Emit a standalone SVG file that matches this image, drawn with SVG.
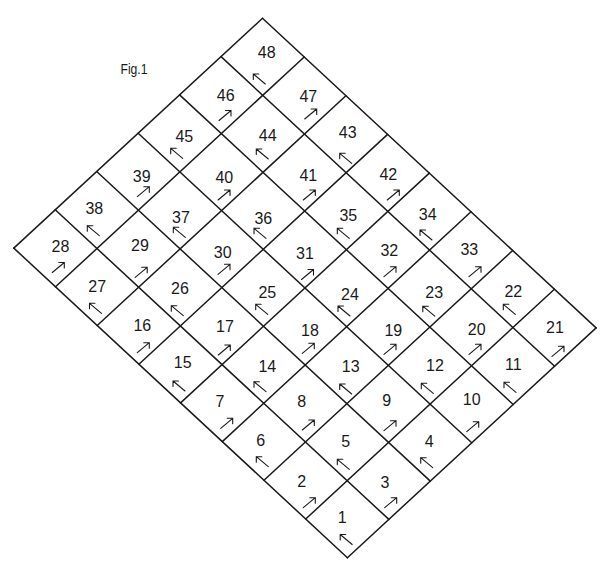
<svg xmlns="http://www.w3.org/2000/svg" xmlns:xlink="http://www.w3.org/1999/xlink" width="600" height="563" viewBox="0 0 600 563">
<style>
.g{stroke:#1a1a1a;stroke-width:1.5;fill:none;stroke-linecap:round}
.a{stroke:#1a1a1a;stroke-width:1.1;fill:none;stroke-linecap:round;stroke-linejoin:miter}
.t{font-family:"Liberation Sans",Arial,sans-serif;font-size:16px;fill:#1a1a1a;text-anchor:middle}
.f{font-family:"Liberation Sans",Arial,sans-serif;font-size:14px;fill:#1a1a1a}
</style>
<defs>
<path id="ne" class="a" d="M-6,5 L6,-5 M0.5,-5 L6,-5 L6,0.5"/>
<path id="nw" class="a" d="M6,5 L-6,-5 M-0.5,-5 L-6,-5 L-6,0.5"/>
</defs>
<rect width="600" height="563" fill="#ffffff"/>
<text id="fig-label" class="f" x="120.5" y="74" textLength="27" lengthAdjust="spacingAndGlyphs">Fig.1</text>
<g id="grid">
<line class="g" x1="262.5" y1="18.3" x2="596.1" y2="327.9"/>
<line class="g" x1="221.05" y1="56.6" x2="554.65" y2="366.2"/>
<line class="g" x1="179.6" y1="94.9" x2="513.2" y2="404.5"/>
<line class="g" x1="138.15" y1="133.2" x2="471.75" y2="442.8"/>
<line class="g" x1="96.7" y1="171.5" x2="430.3" y2="481.1"/>
<line class="g" x1="55.25" y1="209.8" x2="388.85" y2="519.4"/>
<line class="g" x1="13.8" y1="248.1" x2="347.4" y2="557.7"/>
<line class="g" x1="262.5" y1="18.3" x2="13.8" y2="248.1"/>
<line class="g" x1="304.2" y1="57" x2="55.5" y2="286.8"/>
<line class="g" x1="345.9" y1="95.7" x2="97.2" y2="325.5"/>
<line class="g" x1="387.6" y1="134.4" x2="138.9" y2="364.2"/>
<line class="g" x1="429.3" y1="173.1" x2="180.6" y2="402.9"/>
<line class="g" x1="471" y1="211.8" x2="222.3" y2="441.6"/>
<line class="g" x1="512.7" y1="250.5" x2="264" y2="480.3"/>
<line class="g" x1="554.4" y1="289.2" x2="305.7" y2="519"/>
<line class="g" x1="596.1" y1="327.9" x2="347.4" y2="557.7"/>
</g>
<g id="cell-48"><text class="t" x="266.7" y="58.2">48</text><use xlink:href="#nw" href="#nw" x="259.3" y="79"/></g>
<g id="cell-47"><text class="t" x="308.3" y="101.7">47</text><use xlink:href="#ne" href="#ne" x="310.7" y="114"/></g>
<g id="cell-46"><text class="t" x="225.7" y="100.7">46</text><use xlink:href="#ne" href="#ne" x="225" y="115.5"/></g>
<g id="cell-45"><text class="t" x="184.3" y="141.7">45</text><use xlink:href="#nw" href="#nw" x="176.7" y="153.3"/></g>
<g id="cell-44"><text class="t" x="267.7" y="140.7">44</text><use xlink:href="#nw" href="#nw" x="262.3" y="154"/></g>
<g id="cell-43"><text class="t" x="347.7" y="138.4">43</text><use xlink:href="#nw" href="#nw" x="345.7" y="158.3"/></g>
<g id="cell-42"><text class="t" x="388.3" y="179.7">42</text><use xlink:href="#ne" href="#ne" x="393.3" y="195"/></g>
<g id="cell-41"><text class="t" x="308.3" y="180.7">41</text><use xlink:href="#ne" href="#ne" x="309.3" y="195"/></g>
<g id="cell-40"><text class="t" x="224.3" y="183.4">40</text><use xlink:href="#ne" href="#ne" x="224" y="195"/></g>
<g id="cell-39"><text class="t" x="141.7" y="182.4">39</text><use xlink:href="#ne" href="#ne" x="143.3" y="191.7"/></g>
<g id="cell-38"><text class="t" x="94.3" y="214">38</text><use xlink:href="#nw" href="#nw" x="93.3" y="230.7"/></g>
<g id="cell-37"><text class="t" x="181" y="223">37</text><use xlink:href="#nw" href="#nw" x="179.3" y="232.3"/></g>
<g id="cell-36"><text class="t" x="263.3" y="224">36</text><use xlink:href="#nw" href="#nw" x="260" y="233.3"/></g>
<g id="cell-35"><text class="t" x="348.3" y="220.7">35</text><use xlink:href="#nw" href="#nw" x="343.3" y="233.3"/></g>
<g id="cell-34"><text class="t" x="427.7" y="220">34</text><use xlink:href="#nw" href="#nw" x="426" y="235"/></g>
<g id="cell-33"><text class="t" x="469.3" y="255">33</text><use xlink:href="#ne" href="#ne" x="475" y="271.7"/></g>
<g id="cell-32"><text class="t" x="389.3" y="255.7">32</text><use xlink:href="#ne" href="#ne" x="390" y="271.7"/></g>
<g id="cell-31"><text class="t" x="305" y="258.5">31</text><use xlink:href="#ne" href="#ne" x="307.5" y="274.5"/></g>
<g id="cell-30"><text class="t" x="222.7" y="258.4">30</text><use xlink:href="#ne" href="#ne" x="224" y="269.3"/></g>
<g id="cell-29"><text class="t" x="140" y="250.7">29</text><use xlink:href="#ne" href="#ne" x="141.2" y="272.3"/></g>
<g id="cell-28"><text class="t" x="60.5" y="252">28</text><use xlink:href="#ne" href="#ne" x="58.3" y="267.5"/></g>
<g id="cell-27"><text class="t" x="97.2" y="292.3">27</text><use xlink:href="#nw" href="#nw" x="95.5" y="308.3"/></g>
<g id="cell-26"><text class="t" x="180" y="294">26</text><use xlink:href="#nw" href="#nw" x="177.3" y="310.7"/></g>
<g id="cell-25"><text class="t" x="267.3" y="298.4">25</text><use xlink:href="#nw" href="#nw" x="261.7" y="309.3"/></g>
<g id="cell-24"><text class="t" x="350" y="299.7">24</text><use xlink:href="#nw" href="#nw" x="344" y="311"/></g>
<g id="cell-23"><text class="t" x="434.2" y="297.7">23</text><use xlink:href="#nw" href="#nw" x="428.8" y="311.2"/></g>
<g id="cell-22"><text class="t" x="513.3" y="297.4">22</text><use xlink:href="#nw" href="#nw" x="509.3" y="309.3"/></g>
<g id="cell-21"><text class="t" x="555" y="333.4">21</text><use xlink:href="#ne" href="#ne" x="558" y="351.3"/></g>
<g id="cell-20"><text class="t" x="476.7" y="334.7">20</text><use xlink:href="#ne" href="#ne" x="475" y="349.3"/></g>
<g id="cell-19"><text class="t" x="393.3" y="335.7">19</text><use xlink:href="#ne" href="#ne" x="390" y="349.3"/></g>
<g id="cell-18"><text class="t" x="310" y="335.7">18</text><use xlink:href="#ne" href="#ne" x="308.3" y="348.3"/></g>
<g id="cell-17"><text class="t" x="225" y="332.4">17</text><use xlink:href="#ne" href="#ne" x="224.3" y="350"/></g>
<g id="cell-16"><text class="t" x="142.3" y="331.4">16</text><use xlink:href="#ne" href="#ne" x="143.3" y="347.7"/></g>
<g id="cell-15"><text class="t" x="182.7" y="368.4">15</text><use xlink:href="#nw" href="#nw" x="179" y="386"/></g>
<g id="cell-14"><text class="t" x="267.3" y="371.7">14</text><use xlink:href="#nw" href="#nw" x="260" y="386.7"/></g>
<g id="cell-13"><text class="t" x="350.7" y="372.4">13</text><use xlink:href="#nw" href="#nw" x="345.7" y="389"/></g>
<g id="cell-12"><text class="t" x="435" y="370.7">12</text><use xlink:href="#nw" href="#nw" x="427.3" y="388.3"/></g>
<g id="cell-11"><text class="t" x="513.3" y="369.7">11</text><use xlink:href="#nw" href="#nw" x="510" y="387.3"/></g>
<g id="cell-10"><text class="t" x="471.7" y="404.7">10</text><use xlink:href="#ne" href="#ne" x="472.7" y="426.7"/></g>
<g id="cell-9"><text class="t" x="386.7" y="405.7">9</text><use xlink:href="#ne" href="#ne" x="390" y="425.7"/></g>
<g id="cell-8"><text class="t" x="301.7" y="407.4">8</text><use xlink:href="#ne" href="#ne" x="308.3" y="425"/></g>
<g id="cell-7"><text class="t" x="220" y="406.7">7</text><use xlink:href="#ne" href="#ne" x="226.7" y="423.3"/></g>
<g id="cell-6"><text class="t" x="260.7" y="446.4">6</text><use xlink:href="#nw" href="#nw" x="262.3" y="461.7"/></g>
<g id="cell-5"><text class="t" x="345.7" y="446.7">5</text><use xlink:href="#nw" href="#nw" x="343.3" y="464.3"/></g>
<g id="cell-4"><text class="t" x="429.3" y="446.7">4</text><use xlink:href="#nw" href="#nw" x="426.7" y="462.7"/></g>
<g id="cell-3"><text class="t" x="385" y="488">3</text><use xlink:href="#ne" href="#ne" x="390.7" y="502.7"/></g>
<g id="cell-2"><text class="t" x="301.7" y="487.4">2</text><use xlink:href="#ne" href="#ne" x="309.3" y="502.7"/></g>
<g id="cell-1"><text class="t" x="342.3" y="523.4">1</text><use xlink:href="#nw" href="#nw" x="346.2" y="539.5"/></g>
</svg>
